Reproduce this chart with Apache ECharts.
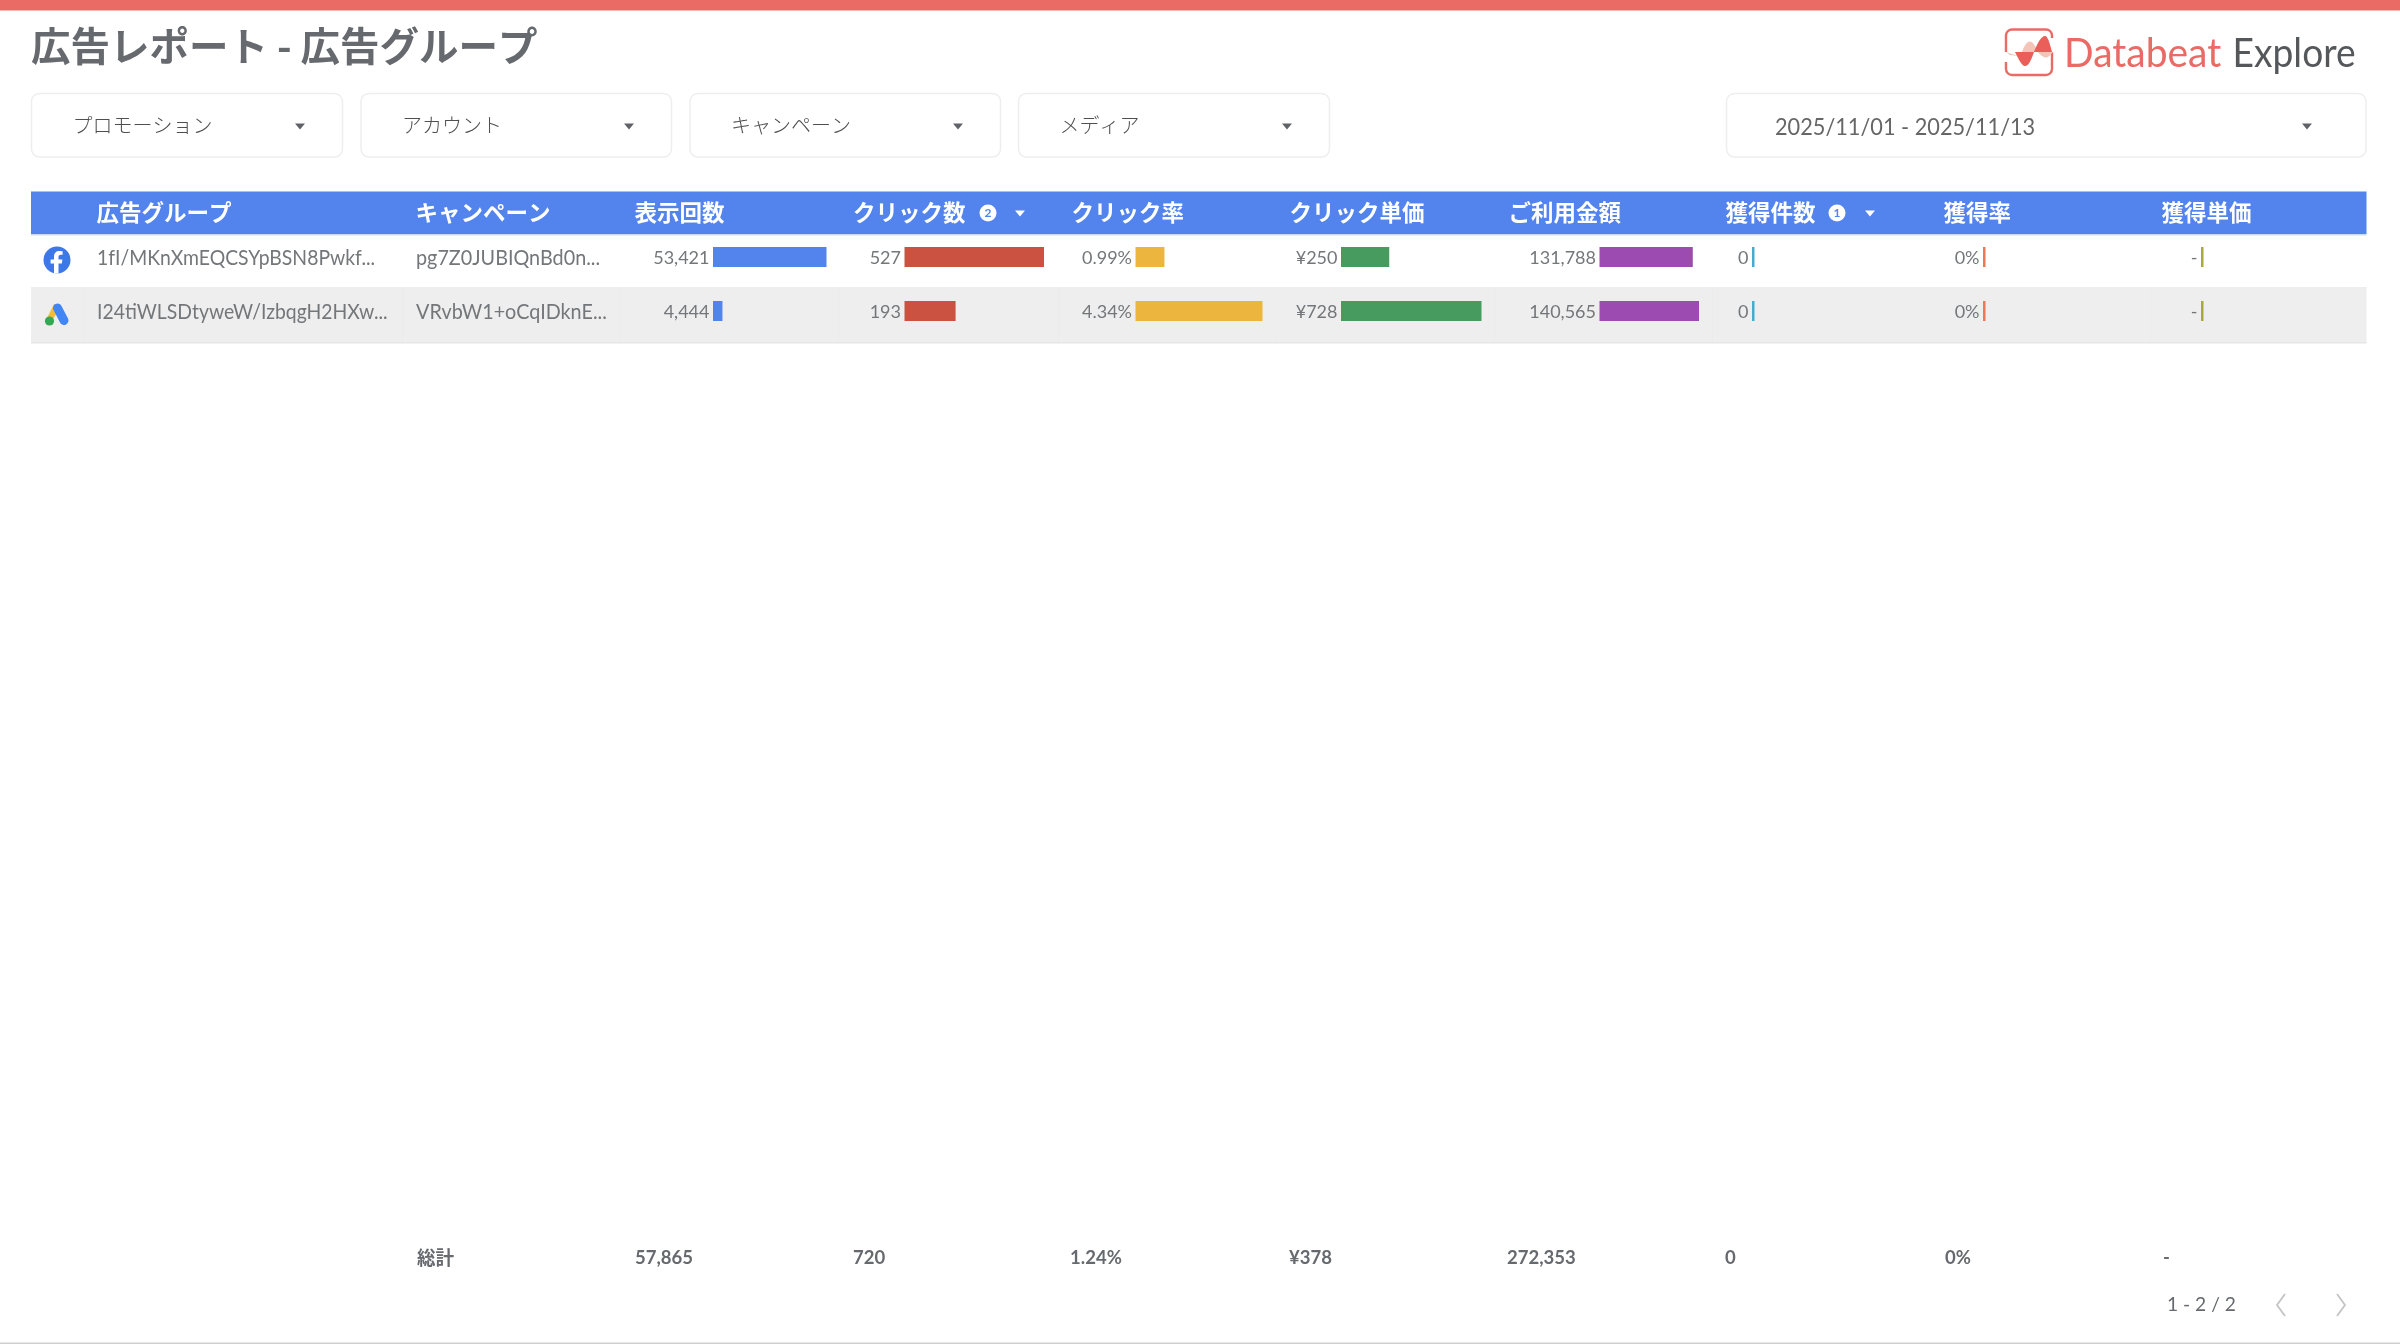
<!DOCTYPE html>
<html><head><meta charset="utf-8">
<script src="https://cdn.jsdelivr.net/npm/echarts@6/dist/echarts.min.js"></script>
<style>html,body{margin:0;padding:0;background:#fff}#c{width:2400px;height:1344px}</style>
</head><body><div id="c"></div>
<script>
const pageTitle = '広告レポート - 広告グループ';
const filterNames = ['プロモーション','アカウント','キャンペーン','メディア'];
const dateRange = '2025/11/01 - 2025/11/13';
const headers = ['広告グループ','キャンペーン','表示回数','クリック数','クリック率','クリック単価','ご利用金額','獲得件数','獲得率','獲得単価'];
const adGroups = ['1fI/MKnXmEQCSYpBSN8Pwkf...','I24tiWLSDtyweW/IzbqgH2HXw...'];
const campaigns = ['pg7Z0JUBIQnBd0n...','VRvbW1+oCqIDknE...'];
const impressions = [53421,4444];
const clicks = [527,193];
const ctr = [0.99,4.34];
const cpc = [250,728];
const cost = [131788,140565];
const conversions = [0,0];
const cvr = [0,0];
const cpa = [0,0];
const totals = ['総計','57,865','720','1.24%','¥378','272,353','0','0%','-'];
const pager = '1 - 2 / 2';

const SANS = 'Lato, "Noto Sans CJK JP", sans-serif';
const GREY = '#666a6e';
const colX = [97,416,635,853.5,1072,1290,1509,1726,1944,2162];
const sepX = [84,402,619,838,1058,1275.5,1494,1712,1930.5,2149.5];
const num = v => v.toLocaleString('en-US');
const metricCols = [
  {v:impressions, c:'#5383EC', left:713,  w:113.5, fmt:num},
  {v:clicks,      c:'#CB5140', left:904.5,w:139.5, fmt:num},
  {v:ctr,         c:'#ECB53E', left:1135.5,w:127, fmt:v=>v.toFixed(2)+'%'},
  {v:cpc,         c:'#489B5E', left:1341, w:140.5, fmt:v=>'¥'+v},
  {v:cost,        c:'#9C4BB1', left:1599.5,w:99.5, fmt:num},
  {v:conversions, c:'#46ABD0', left:1752, w:100, fmt:num},
  {v:cvr,         c:'#EE7755', left:1983, w:100, fmt:v=>v+'%'},
  {v:cpa,         c:'#A8A83C', left:2201, w:100, fmt:()=>'-'}
];

const g = [];
const txt = (x,y,text,o={}) => g.push({type:'text',x,y,silent:true,z:o.z||10,
  scaleX:o.sx||1,
  style:{text,fill:o.fill||GREY,font:`${o.weight||400} ${o.size||20}px ${o.family||SANS}`,textAlign:o.align||'left',textVerticalAlign:'middle'}});
const rect = (x,y,w,h,fill,o={}) => g.push({type:'rect',silent:true,z:o.z||1,shape:{x,y,width:w,height:h,r:o.r||0},
  style:{fill,stroke:o.stroke||null,lineWidth:o.lw||0}});
const tri = (cx,cy,fill) => g.push({type:'polygon',silent:true,z:5,shape:{points:[[cx-5,cy-2.5],[cx+5,cy-2.5],[cx,cy+3.5]]},style:{fill}});
let pathId = 0;
const pathEl = (d,style,z) => {
  const name = 'deco'+(pathId++);
  echarts.graphic.registerShape(name, echarts.graphic.extendPath(d,{}));
  g.push({type:name,silent:true,z:z||6,style});
};

// top band + page bottom rule
rect(0,0,2400,10.5,'#EA6A65');
rect(0,1342.5,2400,1.5,'#cfcfcf');
txt(31,46,pageTitle,{size:39.5,weight:700,fill:'#666a6e',family:'"Noto Sans CJK JP", sans-serif'});

// logo
g.push({type:'rect',silent:true,z:5,shape:{x:2006,y:29.5,width:46,height:45.5,r:6},style:{fill:'none',stroke:'#EA6A65',lineWidth:2.4}});
rect(2001,52,10,10,'#fff',{z:6});
rect(2047,38,10,14,'#fff',{z:6});
pathEl('M2006 52 L2022 52 C2024 46 2027 41.5 2030 41.5 C2033 41.5 2036 47 2038 52 C2041 56 2044 57.5 2046 57.5 C2049 57.5 2051 54 2053 52 L2006 52 L2018 56 L2010 55 Z',{fill:'#F5C4B8'},7);
pathEl('M2015 52 C2019 60 2022 66 2025 66 C2029 66 2032 58 2034 52 Z M2034 52 C2037 44 2041 36 2045 36 C2048 36 2050 44 2052 52 Z',{fill:'#EA5F5A'},8);
txt(2064,54,'Databeat',{size:40,fill:'#EA6A65',sx:.975});
txt(2232.5,54,'Explore',{size:40,fill:'#55585b',sx:.93});

// filters
const fBoxes = [[31.5,311],[361,310.5],[690,310.5],[1018.5,311]];
const fArrows = [300,629,958,1287];
filterNames.forEach((n,i)=>{
  rect(fBoxes[i][0],93.5,fBoxes[i][1],63.5,'#fff',{r:8,stroke:'#eeeeee',lw:1.5});
  txt(fBoxes[i][0]+41,125,n,{size:20,fill:'#4f4f4f',family:'"Noto Sans CJK JP", sans-serif',weight:300});
  tri(fArrows[i],126,'#5f6368');
});
rect(1726.5,93.5,639.5,63.5,'#fff',{r:8,stroke:'#eeeeee',lw:1.5});
txt(1775,128,dateRange,{size:23,fill:'#666',weight:400,sx:.945});
tri(2307,126,'#5f6368');

// table header
rect(31,191.5,2335.5,42.5,'#5383EC');
rect(31,234,2335.5,1.5,'#cdd9f6');
headers.forEach((h,i)=>txt(colX[i]-0.5,212.5,h,{size:22.5,weight:700,fill:'#fff',family:'"Noto Sans CJK JP", sans-serif'}));
[[988,'2',1020],[1837,'1',1870]].forEach(([cx,t,ax])=>{
  g.push({type:'circle',silent:true,z:6,shape:{cx,cy:213,r:8.5},style:{fill:'#fff'}});
  txt(cx,213.5,t,{size:12,weight:700,fill:'#5383EC',align:'center'});
  tri(ax,213,'#fff');
});

// rows
rect(31,287,2335.5,55.5,'#eeeeee');
rect(31,342,2335.5,1.5,'#e6e6e6');
sepX.forEach(x=>rect(x,287,1,55,'#ebebeb',{z:2}));
const rowY = [258,312];
adGroups.forEach((t,i)=>txt(colX[0],rowY[i],t,{size:20.5,fill:'#74777a',sx:.945}));
campaigns.forEach((t,i)=>txt(colX[1],rowY[i],t,{size:20.5,fill:'#74777a',sx:.965}));

// icons
g.push({type:'circle',silent:true,z:6,shape:{cx:57,cy:260,r:13.5},style:{fill:'#3D77E8'}});
pathEl('M54 273.5 V263.5 H50.6 V259.4 H54 V256.6 C54 253 56.2 251 59.4 251 C60.9 251 62.6 251.3 62.6 251.3 V254.8 H60.8 C59 254.8 58.5 255.9 58.5 257 V259.4 H62.4 L61.8 263.5 H58.5 V273.5 Z',{fill:'#fff'},7);
pathEl('M54 304 L46 320 L50 324 L60 308 Z',{fill:'#F4BC3C'},6);
g.push({type:'line',silent:true,z:7,shape:{x1:57.5,y1:308,x2:64,y2:320.5},style:{stroke:'#4285F4',lineWidth:9,lineCap:'round'}});
g.push({type:'circle',silent:true,z:8,shape:{cx:49.5,cy:321,r:4.6},style:{fill:'#34A853'}});

// totals & pager
const totX = [417,635,853,1070,1289,1507,1725,1945,2163];
totals.forEach((t,i)=>txt(totX[i],1258,t,{size:19.5,weight:700,fill:'#666a6e',family:i===0?'"Noto Sans CJK JP", sans-serif':SANS,sx:.95}));
txt(2167,1305,pager,{size:20,fill:'#666a6e',weight:400,sx:.96});
[[2285,2277,2285],[2337,2345,2337]].forEach(([a,b,c])=>g.push({type:'polyline',silent:true,z:5,
  shape:{points:[[a,1294],[b,1305],[c,1316]]},style:{fill:'none',stroke:'#c4c4c4',lineWidth:1.8}}));

// one grid + bar series per metric column, drawn through the library's scales
const grids=[],xAxes=[],yAxes=[],series=[];
metricCols.forEach((m,i)=>{
  grids.push({left:m.left,width:m.w,top:230,height:108,containLabel:false});
  xAxes.push({type:'value',gridIndex:i,min:0,max:Math.max(...m.v)||1,show:false});
  yAxes.push({type:'category',gridIndex:i,inverse:true,data:adGroups,show:false});
  series.push({type:'bar',xAxisIndex:i,yAxisIndex:i,data:m.v,barWidth:20,barMinHeight:2.5,silent:true,z:20,
    itemStyle:{color:m.c,borderRadius:0},
    label:{show:true,position:'left',distance:3.5,offset:[0,1],color:'#74777a',fontFamily:SANS,fontSize:18,formatter:p=>m.fmt(p.value)}});
});

const chart = echarts.init(document.getElementById('c'),null,{renderer:'canvas'});
chart.setOption({animation:false,backgroundColor:'#fff',grid:grids,xAxis:xAxes,yAxis:yAxes,series,graphic:{elements:g}});
</script></body></html>
